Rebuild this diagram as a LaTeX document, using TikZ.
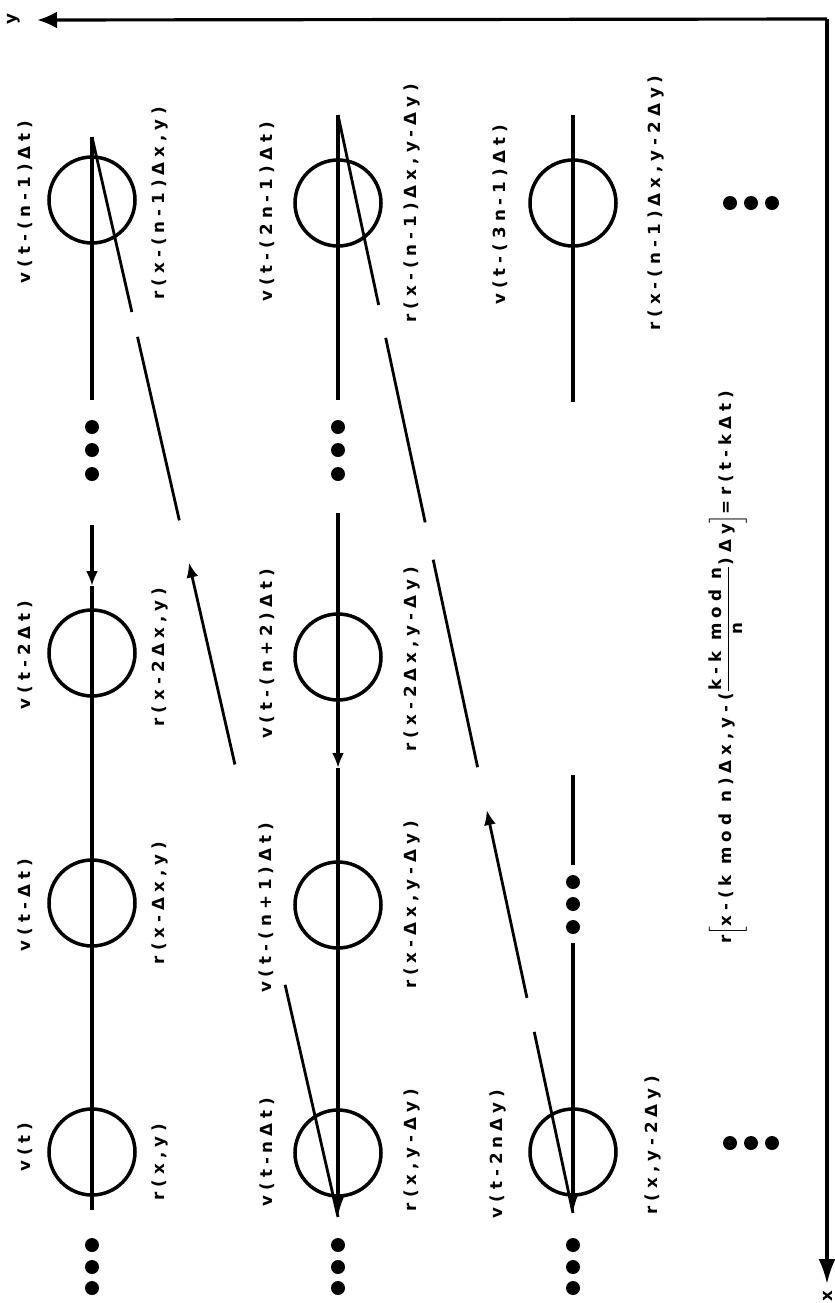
\documentclass[tikz,border=0pt]{standalone}
\usepackage{amsmath}
\usepackage{fontspec}
\newfontfamily\lblfont{DejaVu Sans}[LetterSpace=30]
\usetikzlibrary{arrows.meta}
\usetikzlibrary{calc}

\tikzset{
  cell/.style={circle,draw,line width=2pt,minimum size=17.2mm,inner sep=0pt},
  dot/.style={circle,fill,inner sep=0pt,minimum size=2.8mm},
  lbl/.style={rotate=90,inner sep=1pt,font=\lblfont\bfseries\fontsize{9.5}{11}\selectfont},
  wire/.style={line width=1.8pt},
  slant/.style={line width=1.6pt},
  tip/.style={-{Latex[length=3mm,width=2.4mm]}}
}

\begin{document}
\begin{tikzpicture}[x=0.2mm,y=-0.2mm]
\useasboundingbox (0,0) rectangle (835,1303);
% axes
\coordinate (corner) at (827,19);
\coordinate (ytip) at (37,20);
\coordinate (xtip) at (827,1284);
\draw[wire,-{Latex[length=4mm,width=3.4mm]}] (corner) -- (ytip);
\draw[wire,-{Latex[length=5mm,width=3.4mm]}] (corner) -- (xtip);
\node[lbl] (ylab) at (14,19) {y};
\node[lbl] (xlab) at (828,1296) {x};

% cells
\foreach \y/\n in {1152/1,903/2,653/3,200/n} \node[cell] (n1\n) at (92,\y) {};
\foreach \y/\n in {1153/1,905/2,657/3,203/n} \node[cell] (n2\n) at (338,\y) {};
\foreach \y/\n in {1152/1,203/n} \node[cell] (n3\n) at (573,\y) {};

% column lines
\coordinate (c1top) at (92,137);
\coordinate (c1gap) at (92,400);
\coordinate (c1re) at (92,525);
\coordinate (c1arr) at (92,586);
\coordinate (c1bot) at (92,1210);
\draw[wire] (c1top) -- (c1gap);
\draw[wire,tip] (c1re) -- (c1arr);
\draw[wire] (c1arr) -- (c1bot);

\coordinate (c2top) at (338,115);
\coordinate (c2gap) at (338,400);
\coordinate (c2re) at (338,513);
\coordinate (c2arr) at (338,768);
\coordinate (c2bot) at (338,1217);
\draw[wire] (c2top) -- (c2gap);
\draw[wire,tip] (c2re) -- (c2arr);
\draw[wire,-{Latex[length=4mm,width=2.4mm]}] (c2arr) -- (c2bot);

\coordinate (c3top) at (573,115);
\coordinate (c3gap) at (573,402);
\coordinate (c3mid) at (573,775);
\coordinate (c3mide) at (573,865);
\coordinate (c3re) at (573,943);
\coordinate (c3bot) at (573,1213);
\draw[wire] (c3top) -- (c3gap);
\draw[wire] (c3mid) -- (c3mide);
\draw[wire,-{Latex[length=4mm,width=2.4mm]}] (c3re) -- (c3bot);

% dots
\foreach \x/\c in {92/1,338/2}
  \foreach \y [count=\i] in {427,450,474} \node[dot] (d\c\i) at (\x,\y) {};
\foreach \y [count=\i] in {882,904,927} \node[dot] (d3\i) at (573,\y) {};
\foreach \x/\c in {92/1,338/2,573/3}
  \foreach \y [count=\i] in {1245,1267,1288} \node[dot] (e\c\i) at (\x,\y) {};
\foreach \x [count=\i] in {730,751,772} {
  \node[dot] (f\i) at (\x,203) {};
  \node[dot] (g\i) at (\x,1143) {};
}

% wrap-around lines
\foreach \a/\b in {0/0.162,0.185/0.355,0.785/1}
  \draw[slant] ($(c1top)!\a!(c2bot)$) -- ($(c1top)!\b!(c2bot)$);
\draw[slant,{Latex[length=3mm,width=2.4mm]}-] ($(c1top)!0.394!(c2bot)$) -- ($(c1top)!0.581!(c2bot)$);
\foreach \a/\b in {0/0.173,0.203/0.371,0.405/0.594,0.835/1}
  \draw[slant] ($(c2top)!\a!(c3bot)$) -- ($(c2top)!\b!(c3bot)$);
\draw[slant,{Latex[length=3mm,width=2.4mm]}-] ($(c2top)!0.633!(c3bot)$) -- ($(c2top)!0.804!(c3bot)$);

% labels
\node[lbl] (v1n) at (25,202) {v(t-(n-1)Δt)};
\node[lbl] (v13) at (25,655) {v(t-2Δt)};
\node[lbl] (v12) at (25,905) {v(t-Δt)};
\node[lbl] (v11) at (25,1147) {v(t)};
\node[lbl] (r1n) at (160,203) {r(x-(n-1)Δx,y)};
\node[lbl] (r13) at (160,657) {r(x-2Δx,y)};
\node[lbl] (r12) at (160,903) {r(x-Δx,y)};
\node[lbl] (r11) at (160,1162) {r(x,y)};
\node[lbl] (v2n) at (267,212) {v(t-(2n-1)Δt)};
\node[lbl] (v23) at (267,654) {v(t-(n+2)Δt)};
\node[lbl] (v22) at (266,908) {v(t-(n+1)Δt)};
\node[lbl] (v21) at (267,1152) {v(t-nΔt)};
\node[lbl] (r2n) at (412,203) {r(x-(n-1)Δx,y-Δy)};
\node[lbl] (r23) at (412,659) {r(x-2Δx,y-Δy)};
\node[lbl] (r22) at (412,905) {r(x-Δx,y-Δy)};
\node[lbl] (r21) at (412,1150) {r(x,y-Δy)};
\node[lbl] (v3n) at (500,215) {v(t-(3n-1)Δt)};
\node[lbl] (v31) at (498,1154) {v(t-2nΔy)};
\node[lbl] (r3n) at (656,203) {r(x-(n-1)Δx,y-2Δy)};
\node[lbl] (r31) at (653,1145) {r(x,y-2Δy)};
\node[lbl] (law) at (728,667) {r$\left[\text{x-(k mod n)Δx,y-(}\dfrac{\text{k-k mod n}}{\text{n}}\text{)Δy}\right]$=r(t-kΔt)};
\end{tikzpicture}
\end{document}
